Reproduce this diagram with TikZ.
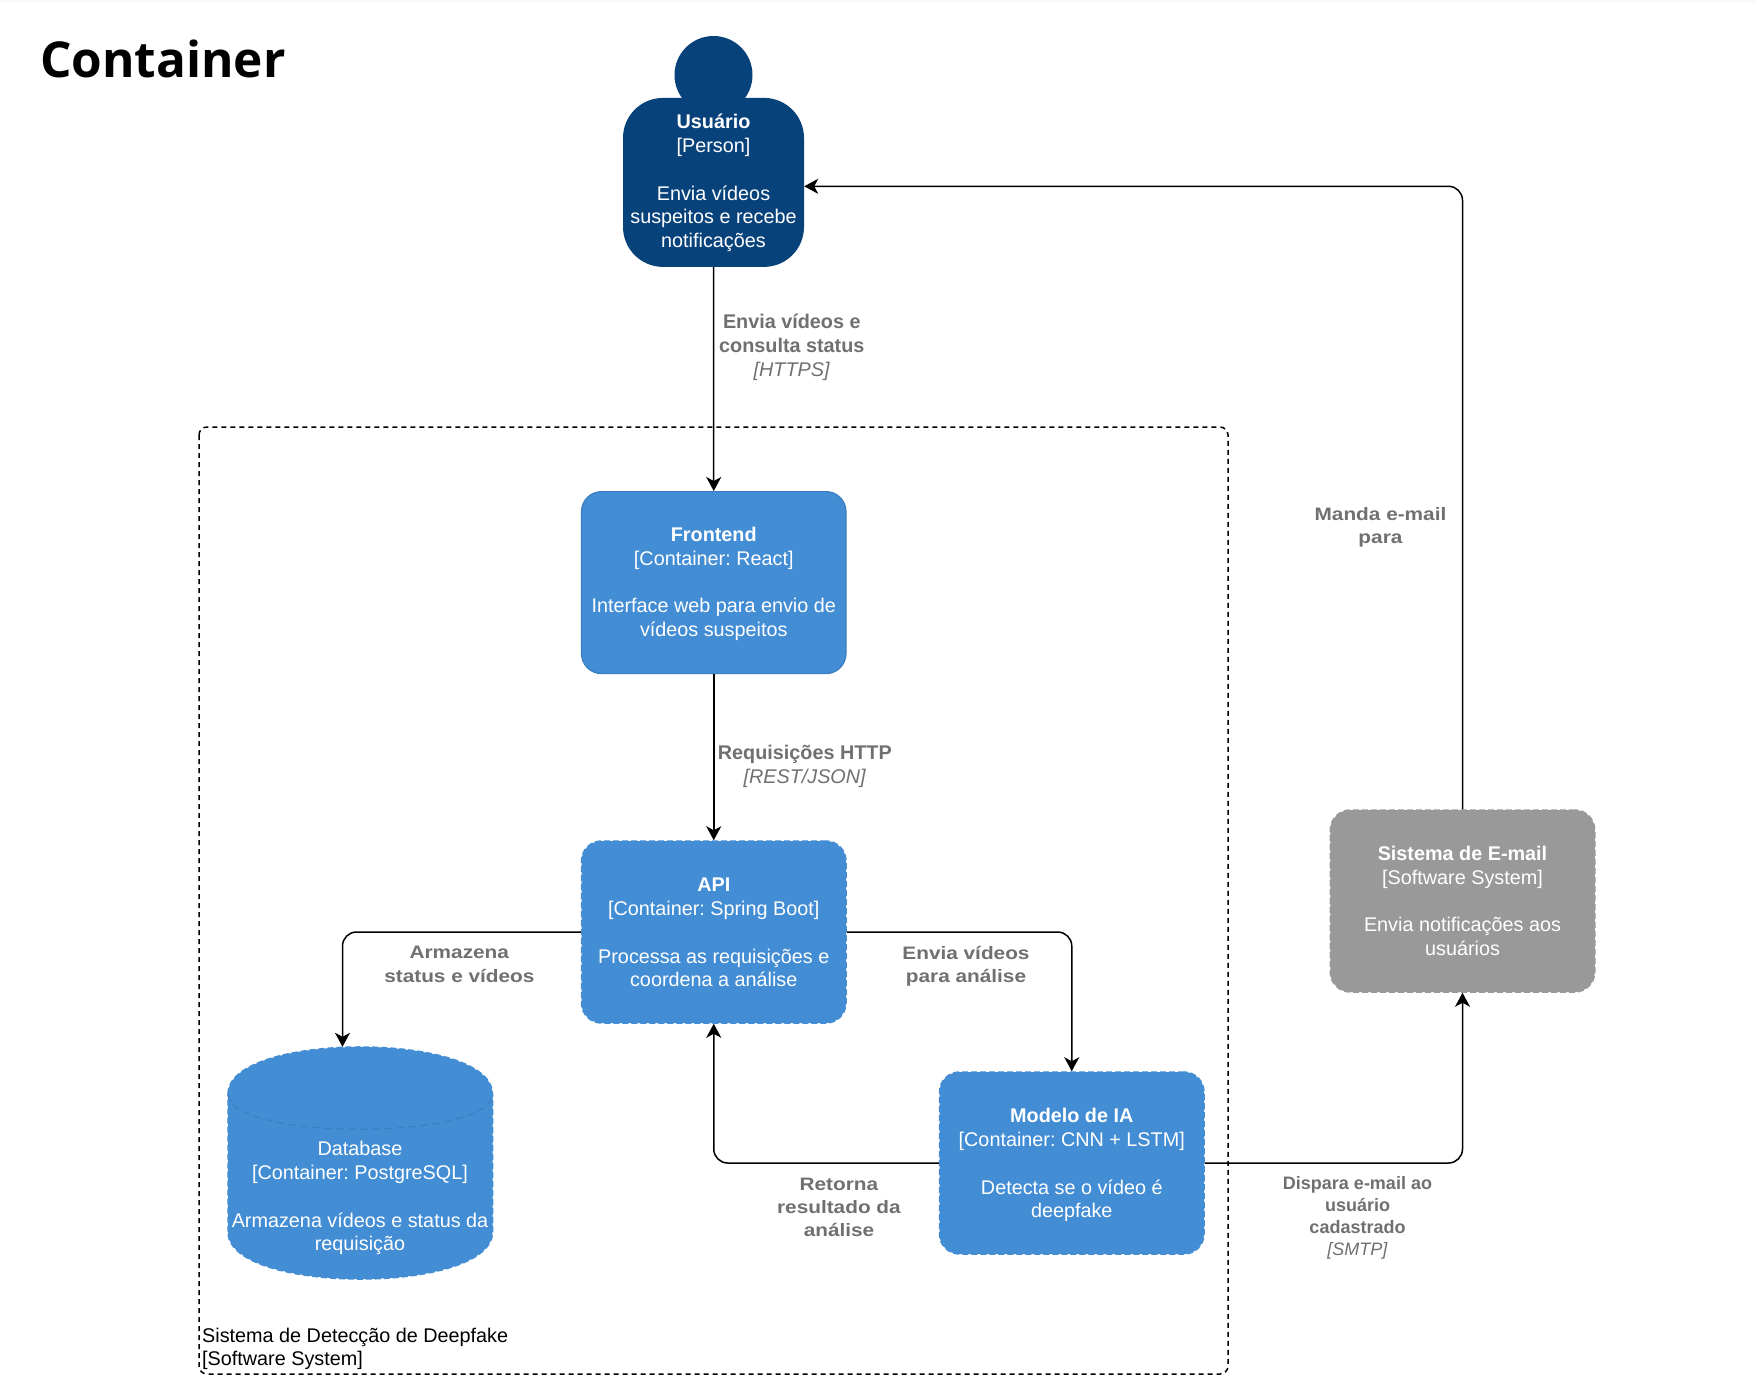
\documentclass[tikz,border=0pt]{standalone}
\usepackage{fontspec}
\setmainfont{Liberation Sans}
\newfontfamily\titlefont{Open Sans}
\newfontfamily\wideface[FakeStretch=1.155]{Liberation Sans}
\usetikzlibrary{arrows.meta,calc}
\definecolor{personfill}{HTML}{08427B}
\definecolor{boxfill}{HTML}{438DD5}
\definecolor{boxline}{HTML}{3C7FC0}
\definecolor{extfill}{HTML}{999999}
\definecolor{labelgray}{HTML}{707070}
\tikzset{
  x=1pt,y=-1pt,
  boxbase/.style={rectangle,rounded corners=20pt,minimum width=264.5pt,minimum height=182pt,inner sep=0pt},
  boxtext/.style={inner sep=0pt,text=white,align=center,font=\fontsize{19.8}{23.8}\selectfont},
  solidbox/.style={boxbase,fill=boxfill,draw=boxline,line width=1.2pt},
  dashbox/.style={boxbase,fill=boxfill,draw=boxfill,line width=1.5pt,dash pattern=on 6pt off 3pt},
  extbox/.style={boxbase,fill=extfill,draw=extfill,line width=1.5pt,dash pattern=on 6pt off 3pt},
  conn/.style={draw=black,line width=1.5pt,rounded corners=14pt,-{Stealth[length=14pt,width=15pt,inset=4pt]}},
  rellabel/.style={text=labelgray,align=center,inner sep=0pt,font=\fontsize{19.8}{23.8}\selectfont},
  widelabel/.style={text=labelgray,align=center,inner sep=0pt,font=\fontsize{18}{23.2}\selectfont},
  smalllabel/.style={text=labelgray,align=center,inner sep=0pt,font=\fontsize{18}{22}\selectfont},
  frameline/.style={draw=black,line width=1.5pt,dash pattern=on 5pt off 4pt,rounded corners=8pt},
}
\begin{document}
\frenchspacing
\begin{tikzpicture}
\useasboundingbox (0,0) rectangle (1757,1393);
\fill[white] (0,0) rectangle (1757,1393);
\fill[black!2] (0,0) rectangle (1757,3);

\node[anchor=base west,inner sep=0pt,font=\titlefont\bfseries\fontsize{49.5}{60}\selectfont] (title) at (40,77.5) {Container};

% system boundary
\draw[frameline] (199,427) rectangle (1228,1374);
\node[anchor=north west,inner sep=0pt,align=left,text=black,font=\fontsize{19.8}{23.8}\selectfont] (syslabel) at (202,1327.5) {Sistema de Detecção de Deepfake\\{}[Software System]};

% person
\node[circle,fill=personfill,minimum size=78pt,inner sep=0pt] (head) at (713.5,75) {};
\node[boxbase,fill=personfill,rounded corners=40pt,minimum width=181pt,minimum height=169pt] (usuario) at (713.5,182.4) {};
\node[boxtext] (usuariotext) at (713.5,183)
  {\textbf{Usuário}\\{}[Person]\\[23.8pt]Envia vídeos\\suspeitos e recebe\\notificações};

\node[solidbox] (frontend) at (713.75,582.6) {};
\node[boxtext] (frontendtext) at (713.75,584)
  {\textbf{Frontend}\\{}[Container: React]\\[23.8pt]Interface web para envio de\\vídeos suspeitos};
\node[dashbox] (api) at (713.75,932) {};
\node[boxtext] (apitext) at (713.75,932.6)
  {\textbf{API}\\{}[Container: Spring Boot]\\[23.8pt]Processa as requisições e\\coordena a análise};
\node[dashbox] (modelo) at (1071.75,1163) {};
\node[boxtext] (modelotext) at (1071.75,1165.2)
  {\textbf{Modelo de IA}\\{}[Container: CNN + LSTM]\\[23.8pt]Detecta se o vídeo é\\deepfake};
\node[extbox] (email) at (1462.5,901) {};
\node[boxtext] (emailtext) at (1462.5,901)
  {\textbf{Sistema de E-mail}\\{}[Software System]\\[23.8pt]Envia notificações aos\\usuários};

% database
\node[rectangle,minimum width=264.5pt,minimum height=232pt,inner sep=0pt] (db) at (360.25,1163) {};
\draw[fill=boxfill,draw=boxfill,line width=1.5pt,dash pattern=on 6pt off 3pt]
  (228,1094) .. controls (228,1031.3) and (492.5,1031.3) .. (492.5,1094)
  -- (492.5,1232) .. controls (492.5,1294.7) and (228,1294.7) .. (228,1232) -- cycle;
\draw[boxline,line width=1.2pt,dash pattern=on 7pt off 5pt]
  (228,1094) .. controls (228,1141) and (492.5,1141) .. (492.5,1094);
\node[boxtext] (dblabel) at (360,1198.2)
  {Database\\{}[Container: PostgreSQL]\\[23.8pt]Armazena vídeos e status da\\requisição};

% free ends
\coordinate (dbin) at ($(db.north west)!0.433!(db.north east)$);
\coordinate (userin) at ($(usuario.north east)!0.523!(usuario.south east)$);

% connectors
\draw[conn] (usuario.south) -- (frontend.north);
\draw[conn] (frontend.south) -- (api.north);
\draw[conn] (api.west) -| (dbin);
\draw[conn] (api.east) -| (modelo.north);
\draw[conn] (modelo.west) -| (api.south);
\draw[conn] (modelo.east) -| (email.south);
\draw[conn] (email.north) |- (userin);

% labels
\node[rellabel] (l1) at (791.8,347) {\textbf{Envia vídeos e}\\\textbf{consulta status}\\\textit{[HTTPS]}};
\node[rellabel] (l2) at (804.8,766) {\textbf{Requisições HTTP}\\\textit{[REST/JSON]}};
\node[widelabel] (l3) at (459.4,964.4) {\wideface\textbf{Armazena}\\\wideface\textbf{status e vídeos}};
\node[widelabel] (l4) at (966,966) {\wideface\textbf{Envia vídeos}\\\wideface\textbf{para análise}};
\node[widelabel] (l5) at (839,1207.5) {\wideface\textbf{Retorna}\\\wideface\textbf{resultado da}\\\wideface\textbf{análise}};
\node[smalllabel] (l6) at (1357.5,1217.8) {\textbf{Dispara e-mail ao}\\\textbf{usuário}\\\textbf{cadastrado}\\\textit{[SMTP]}};
\node[widelabel] (l7) at (1380.5,527.2) {\wideface\textbf{Manda e-mail}\\\wideface\textbf{para}};
\end{tikzpicture}
\end{document}
